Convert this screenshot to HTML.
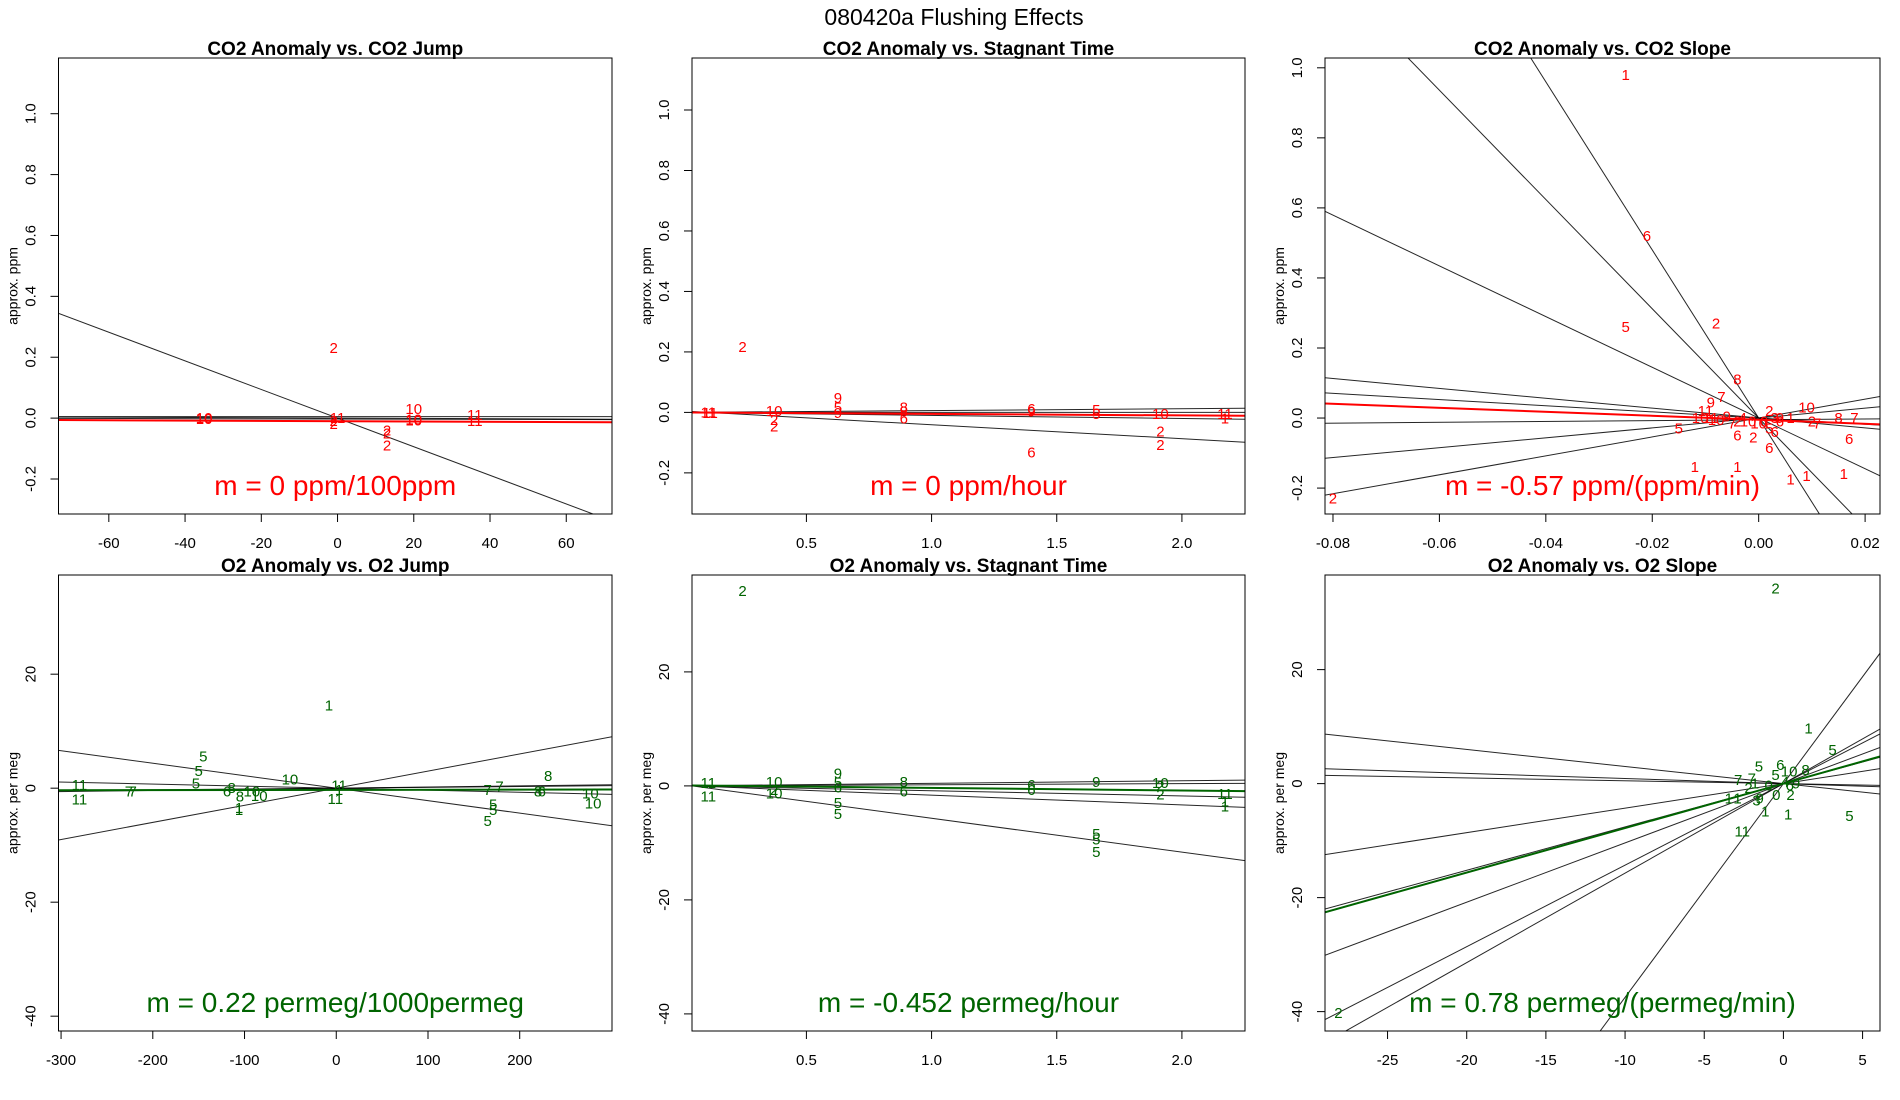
<!DOCTYPE html>
<html><head><meta charset="utf-8"><title>080420a Flushing Effects</title>
<style>
html,body{margin:0;padding:0;background:#fff;width:1900px;height:1100px;overflow:hidden;}
svg{display:block;font-family:"Liberation Sans",Arial,sans-serif;}
</style></head>
<body>
<svg id="fig" width="1900" height="1100" viewBox="0 0 1900 1100" xmlns="http://www.w3.org/2000/svg">
<rect x="0" y="0" width="1900" height="1100" fill="#fff"/>
<text x="954" y="25" text-anchor="middle" font-size="23" fill="#000">080420a   Flushing Effects</text>
</svg>
<script>
// ---------- tick data ----------
const co2YTicks = [-0.2, 0.0, 0.2, 0.4, 0.6, 0.8, 1.0];
const co2YTickLabels = ["-0.2", "0.0", "0.2", "0.4", "0.6", "0.8", "1.0"];
const o2YTicks = [-40, -20, 0, 20];
const o2YTickLabels = ["-40", "-20", "0", "20"];
const jumpCO2XTicks = [-60, -40, -20, 0, 20, 40, 60];
const jumpCO2XTickLabels = ["-60", "-40", "-20", "0", "20", "40", "60"];
const timeXTicks = [0.5, 1.0, 1.5, 2.0];
const timeXTickLabels = ["0.5", "1.0", "1.5", "2.0"];
const slopeCO2XTicks = [-0.08, -0.06, -0.04, -0.02, 0.0, 0.02];
const slopeCO2XTickLabels = ["-0.08", "-0.06", "-0.04", "-0.02", "0.00", "0.02"];
const jumpO2XTicks = [-300, -200, -100, 0, 100, 200];
const jumpO2XTickLabels = ["-300", "-200", "-100", "0", "100", "200"];
const slopeO2XTicks = [-25, -20, -15, -10, -5, 0, 5];
const slopeO2XTickLabels = ["-25", "-20", "-15", "-10", "-5", "0", "5"];

// ---------- panel 1: CO2 anomaly vs CO2 jump ----------
const p1Labels = ["2","10","10","11","2","2","10","10","10","11","11","2","2","2"];
const p1X = [-1,-35,-35,0,-1,-1,20,20,20,36,36,13,13,13];
const p1Y = [0.23,0.0,-0.003,0.0,-0.02,-0.01,0.03,-0.005,-0.008,0.01,-0.01,-0.04,-0.05,-0.09];
const p1LineIntercepts = [0.0, 0.005, 0.0, -0.003];
const p1LineSlopes = [-0.0047, 0.0, -0.00005, -0.00003];
const p1FitIntercept = -0.01;
const p1FitSlope = -0.00005;

// ---------- panel 2: CO2 anomaly vs stagnant time ----------
const p2Labels = ["2","11","11","10","2","2","9","5","9","8","8","6","6","9","5","5","10","2","2","6","11","1"];
const p2X = [0.245,0.108,0.115,0.371,0.371,0.371,0.626,0.626,0.626,0.889,0.889,0.889,1.399,1.399,1.658,1.658,1.914,1.914,1.914,1.399,2.172,2.172];
const p2Y = [0.217,0.0,-0.002,0.005,-0.025,-0.047,0.047,0.017,-0.002,0.017,0.003,-0.02,0.012,0.003,0.008,-0.005,-0.005,-0.063,-0.107,-0.133,-0.005,-0.02];
const p2LineIntercepts = [0.005, 0.0, 0.0, 0.0];
const p2LineSlopes = [-0.046, 0.006, 0.0, -0.01];
const p2FitIntercept = 0.0;
const p2FitSlope = -0.005;

// ---------- panel 3: CO2 anomaly vs CO2 slope ----------
const p3Labels = ["1","6","5","2","8","7","9","11","5","2","1","1","1","1","1","6","2","6","6","10","8","7","6","2","7","2","10","10","9","2","10","0","9","1","7","5","10","6","11","4","3"];
const p3X = [-0.025,-0.021,-0.025,-0.008,-0.004,-0.007,-0.009,-0.01,-0.015,-0.08,-0.012,-0.004,0.006,0.009,0.016,-0.004,-0.001,0.002,0.003,0.009,0.015,0.018,0.017,0.01,0.011,0.002,-0.011,-0.008,-0.006,-0.004,-0.002,0.001,0.004,0.006,-0.005,0.002,0.0,0.004,-0.009,-0.003,0.003];
const p3Y = [0.98,0.52,0.26,0.27,0.11,0.06,0.045,0.02,-0.03,-0.23,-0.14,-0.14,-0.175,-0.165,-0.16,-0.05,-0.055,-0.085,-0.04,0.03,0.0,0.0,-0.06,-0.01,-0.015,0.02,0.0,-0.005,0.005,-0.01,-0.01,-0.01,0.0,0.0,-0.015,-0.03,-0.015,-0.01,0.0,0.0,0.0];
const p3LineIntercepts = [0.0, 0.0, 0.0, 0.0, 0.0, -0.005, 0.0, 0.0];
const p3LineSlopes = [-24, -15.6, -7.24, -1.41, -0.88, 0.12, 1.41, 2.7];
const p3FitIntercept = -0.005;
const p3FitSlope = -0.57;

// ---------- panel 4: O2 anomaly vs O2 jump ----------
const p4Labels = ["1","5","5","5","11","11","7","7","8","6","8","1","1","10","10","10","11","1","11","7","7","8","8","6","5","5","5","10","10"];
const p4X = [-8,-145,-150,-153,-280,-280,-222,-226,-114,-119,-105,-106,-106,-92,-84,-50.5,3,3,-1,165,178,231,220,224,171,171,165,277,280];
const p4Y = [14.5,5.6,3.0,0.8,0.6,-2.0,-0.6,-0.6,0.0,-0.6,-1.5,-3.5,-3.8,-0.6,-1.4,1.5,0.5,-0.3,-1.9,-0.3,0.3,2.1,-0.6,-0.6,-2.9,-3.8,-5.8,-0.9,-2.7];
const p4LineIntercepts = [0.0, 0.0, 0.0, 0.0, 0.0];
const p4LineSlopes = [-0.0219, 0.030, -0.0036, 0.0015, 0.002];
const p4FitIntercept = -0.3;
const p4FitSlope = 0.00022;

// ---------- panel 5: O2 anomaly vs stagnant time ----------
const p5Labels = ["2","11","11","10","10","2","9","5","6","5","5","8","6","6","6","9","5","5","5","10","2","2","11","1","1"];
const p5X = [0.245,0.108,0.108,0.371,0.371,0.371,0.626,0.626,0.626,0.626,0.626,0.889,0.889,1.399,1.399,1.658,1.658,1.658,1.658,1.914,1.914,1.914,2.172,2.172,2.172];
const p5Y = [34.2,0.5,-1.9,0.7,-1.3,-0.7,2.2,0.6,-0.3,-3.0,-4.9,0.7,-1.0,0.2,-0.7,0.7,-8.4,-9.4,-11.6,0.5,-1.5,0.0,-1.4,-3.6,-2.7];
const p5LineIntercepts = [0.25, 0.07, 0.04, 0.0, 0.0];
const p5LineSlopes = [-5.93, -1.7, -0.9, 0.45, 0.2];
const p5FitIntercept = 0.1;
const p5FitSlope = -0.452;

// ---------- panel 6: O2 anomaly vs O2 slope ----------
const p6Labels = ["1","5","5","1","1","11","6","5","7","1","1","2","0","9","3","10","8","1","5","0","2","4","6","9","7","2","2"];
const p6X = [1.59,3.1,4.17,0.3,-1.14,-2.6,-0.2,-1.55,-2.86,-3.45,-2.9,0.45,-0.45,-1.5,-1.7,0.36,1.4,-1.8,-0.5,-0.93,-2.2,0.1,0.4,0.8,-2.0,-0.5,-28.1];
const p6Y = [9.7,5.9,-5.7,-5.4,-4.9,-8.4,3.3,3.0,0.6,-2.6,-2.6,-2.0,-2.0,-2.6,-3.0,2.1,2.4,0.0,1.5,-0.3,-0.8,0.3,-0.3,0.0,0.9,34.2,-40.2];
const p6LineIntercepts = [0.0, 0.0, 0.0, 0.0, 0.0, 0.0, 0.0, 0.0, 0.0];
const p6LineSlopes = [3.75, -0.3, -0.09, -0.05, 0.43, 0.76, 1.04, 1.43, 1.57];
const p6FitIntercept = 0.0;
const p6FitSlope = 0.78;

const NS = "http://www.w3.org/2000/svg";
const svg = document.getElementById("fig");
const RED = "#ff0000", GREEN = "#006400";

function mk(tag, attrs, parent) {
  const e = document.createElementNS(NS, tag);
  for (const k in attrs) e.setAttribute(k, attrs[k]);
  (parent || svg).appendChild(e);
  return e;
}

function drawPanel(id, box, xlim, ylim, title, ylab, xTicks, xTickLabels, yTicks, yTickLabels,
                   labels, xs, ys, lineA, lineB, fitA, fitB, color, note) {
  const g = mk("g", {});
  
  
  const L = box[0], T = box[1], R = box[2], B = box[3];
  const sx = v => L + (v - xlim[0]) / (xlim[1] - xlim[0]) * (R - L);
  const sy = v => B - (v - ylim[0]) / (ylim[1] - ylim[0]) * (B - T);

  const cp = mk("clipPath", { id: id + "-clip" }, g);
  mk("rect", { x: L, y: T, width: R - L, height: B - T }, cp);

  const t = mk("text", { x: (L + R) / 2, y: T - 3, "text-anchor": "middle", "font-size": "19", "font-weight": "bold", fill: "#000" }, g);
  
  
  t.textContent = title;

  const yl = mk("text", { x: 0, y: 0, "text-anchor": "middle", "font-size": "14", fill: "#000",
    transform: "translate(" + (L - 41) + "," + ((T + B) / 2) + ") rotate(-90)" }, g);
  
  
  yl.textContent = ylab;

  xTicks.forEach((v, i) => {
    const x = sx(v);
    const tk = mk("line", { x1: x, y1: B, x2: x, y2: B + 8, stroke: "#000", "stroke-width": 1 }, g);
    
    
    const tl = mk("text", { x: x, y: B + 34, "text-anchor": "middle", "font-size": "15", fill: "#000" }, g);
    
    
    tl.textContent = xTickLabels[i];
  });
  yTicks.forEach((v, i) => {
    const y = sy(v);
    const tk = mk("line", { x1: L - 8, y1: y, x2: L, y2: y, stroke: "#000", "stroke-width": 1 }, g);
    
    
    const tl = mk("text", { x: 0, y: 0, "text-anchor": "middle", "font-size": "15", fill: "#000",
      transform: "translate(" + (L - 23) + "," + y + ") rotate(-90)" }, g);
    
    
    tl.textContent = yTickLabels[i];
  });

  const inner = mk("g", { "clip-path": "url(#" + id + "-clip)" }, g);
  
  

  lineA.forEach((a, i) => {
    const b = lineB[i];
    const ln = mk("line", { x1: sx(xlim[0]), y1: sy(a + b * xlim[0]), x2: sx(xlim[1]), y2: sy(a + b * xlim[1]),
      stroke: "#000", "stroke-width": 1, "stroke-opacity": 0.85 }, inner);
    
    
  });
  const fl = mk("line", { x1: sx(xlim[0]), y1: sy(fitA + fitB * xlim[0]), x2: sx(xlim[1]), y2: sy(fitA + fitB * xlim[1]),
    stroke: color, "stroke-width": 2 }, inner);
  
  

  labels.forEach((lab, i) => {
    const p = mk("text", { x: sx(xs[i]), y: sy(ys[i]) + 5, "text-anchor": "middle", "font-size": "15", fill: color }, inner);
    
    
    p.textContent = lab;
  });

  const an = mk("text", { x: (L + R) / 2, y: B - 19, "text-anchor": "middle", "font-size": "28", fill: color }, g);
  
  
  an.textContent = note;

  const bx = mk("rect", { x: L, y: T, width: R - L, height: B - T, fill: "none", stroke: "#000", "stroke-width": 1 }, g);
  
  
}

drawPanel("co2-jump", [58.5, 58, 612, 514], [-73.2, 72], [-0.315, 1.183], "CO2 Anomaly vs. CO2 Jump", "approx. ppm",
  jumpCO2XTicks, jumpCO2XTickLabels, co2YTicks, co2YTickLabels,
  p1Labels, p1X, p1Y, p1LineIntercepts, p1LineSlopes, p1FitIntercept, p1FitSlope, RED, "m = 0 ppm/100ppm");
drawPanel("co2-time", [692, 58, 1245, 514], [0.043, 2.252], [-0.336, 1.172], "CO2 Anomaly vs. Stagnant Time", "approx. ppm",
  timeXTicks, timeXTickLabels, co2YTicks, co2YTickLabels,
  p2Labels, p2X, p2Y, p2LineIntercepts, p2LineSlopes, p2FitIntercept, p2FitSlope, RED, "m = 0 ppm/hour");
drawPanel("co2-slope", [1325, 58, 1880, 514], [-0.0815, 0.0228], [-0.274, 1.028], "CO2 Anomaly vs. CO2 Slope", "approx. ppm",
  slopeCO2XTicks, slopeCO2XTickLabels, co2YTicks, co2YTickLabels,
  p3Labels, p3X, p3Y, p3LineIntercepts, p3LineSlopes, p3FitIntercept, p3FitSlope, RED, "m = -0.57 ppm/(ppm/min)");
drawPanel("o2-jump", [58.5, 575, 612, 1031], [-302.8, 300.6], [-42.6, 37.4], "O2 Anomaly vs. O2 Jump", "approx. per meg",
  jumpO2XTicks, jumpO2XTickLabels, o2YTicks, o2YTickLabels,
  p4Labels, p4X, p4Y, p4LineIntercepts, p4LineSlopes, p4FitIntercept, p4FitSlope, GREEN, "m = 0.22 permeg/1000permeg");
drawPanel("o2-time", [692, 575, 1245, 1031], [0.043, 2.252], [-43.0, 37.0], "O2 Anomaly vs. Stagnant Time", "approx. per meg",
  timeXTicks, timeXTickLabels, o2YTicks, o2YTickLabels,
  p5Labels, p5X, p5Y, p5LineIntercepts, p5LineSlopes, p5FitIntercept, p5FitSlope, GREEN, "m = -0.452 permeg/hour");
drawPanel("o2-slope", [1325, 575, 1880, 1031], [-28.95, 6.1], [-43.4, 36.6], "O2 Anomaly vs. O2 Slope", "approx. per meg",
  slopeO2XTicks, slopeO2XTickLabels, o2YTicks, o2YTickLabels,
  p6Labels, p6X, p6Y, p6LineIntercepts, p6LineSlopes, p6FitIntercept, p6FitSlope, GREEN, "m = 0.78 permeg/(permeg/min)");
</script>
</body></html>
